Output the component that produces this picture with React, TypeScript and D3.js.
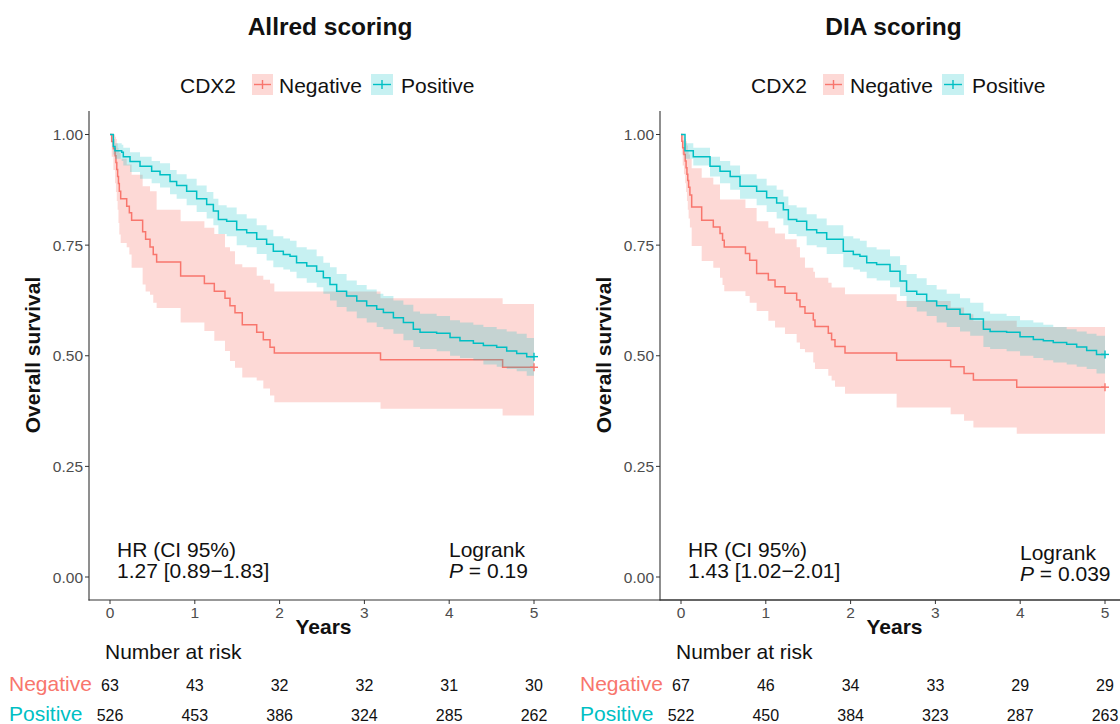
import React from "react";
import * as d3 from "d3";

const FONT = "'Liberation Sans', Arial, Helvetica, sans-serif";
const RED = "#F8766D";
const TEAL = "#00BFC4";

const years = [0, 1, 2, 3, 4, 5];
const survTicks = [0, 0.25, 0.5, 0.75, 1];
const groupNames = ["Negative", "Positive"];

// Allred scoring - CDX2 negative
const allredNegTime = [0, 0.02, 0.04, 0.06, 0.07, 0.08, 0.09, 0.10, 0.11, 0.126, 0.197, 0.228, 0.255, 0.385, 0.42, 0.472, 0.51, 0.55, 0.833, 1.113, 1.23, 1.356, 1.415, 1.474, 1.56, 1.73, 1.808, 1.887, 1.938, 3.19, 4.63];
const allredNegSurv = [1, 0.984, 0.968, 0.952, 0.937, 0.921, 0.905, 0.889, 0.872, 0.855, 0.838, 0.823, 0.806, 0.780, 0.763, 0.746, 0.729, 0.712, 0.680, 0.663, 0.646, 0.630, 0.613, 0.597, 0.570, 0.553, 0.536, 0.519, 0.506, 0.491, 0.474];
const allredNegLower = [1, 0.95, 0.92, 0.89, 0.87, 0.85, 0.83, 0.80, 0.774, 0.755, 0.745, 0.729, 0.699, 0.661, 0.645, 0.638, 0.620, 0.608, 0.575, 0.556, 0.534, 0.511, 0.488, 0.473, 0.451, 0.444, 0.426, 0.410, 0.395, 0.380, 0.365];
const allredNegUpper = [1, 1, 1, 0.995, 0.99, 0.98, 0.97, 0.965, 0.958, 0.945, 0.932, 0.932, 0.909, 0.883, 0.883, 0.872, 0.872, 0.830, 0.804, 0.789, 0.775, 0.745, 0.736, 0.707, 0.700, 0.681, 0.672, 0.663, 0.645, 0.630, 0.617];

// Allred scoring - CDX2 positive
const allredPosTime = [0, 0.039, 0.059, 0.138, 0.157, 0.236, 0.354, 0.491, 0.59, 0.708, 0.786, 0.904, 1.022, 1.14, 1.219, 1.278, 1.376, 1.494, 1.612, 1.73, 1.847, 1.926, 2.044, 2.123, 2.2, 2.32, 2.437, 2.516, 2.594, 2.673, 2.79, 2.91, 3.027, 3.145, 3.224, 3.342, 3.46, 3.577, 3.656, 3.852, 4.01, 4.127, 4.285, 4.403, 4.56, 4.678, 4.796, 4.914];
const allredPosSurv = [1, 0.973, 0.963, 0.960, 0.950, 0.939, 0.928, 0.917, 0.909, 0.894, 0.885, 0.872, 0.855, 0.842, 0.827, 0.808, 0.804, 0.785, 0.778, 0.763, 0.752, 0.736, 0.729, 0.725, 0.710, 0.703, 0.691, 0.676, 0.661, 0.646, 0.635, 0.624, 0.613, 0.605, 0.598, 0.586, 0.575, 0.560, 0.553, 0.551, 0.541, 0.534, 0.528, 0.523, 0.519, 0.511, 0.505, 0.498];
const allredPosLower = [1, 0.955, 0.945, 0.94, 0.93, 0.915, 0.90, 0.89, 0.88, 0.865, 0.855, 0.84, 0.825, 0.81, 0.795, 0.775, 0.77, 0.75, 0.745, 0.73, 0.715, 0.70, 0.695, 0.69, 0.675, 0.665, 0.655, 0.64, 0.625, 0.61, 0.60, 0.585, 0.575, 0.565, 0.56, 0.55, 0.535, 0.52, 0.515, 0.51, 0.50, 0.495, 0.49, 0.48, 0.475, 0.47, 0.465, 0.455];
const allredPosUpper = [1, 0.99, 0.98, 0.977, 0.97, 0.96, 0.95, 0.94, 0.935, 0.92, 0.91, 0.90, 0.885, 0.87, 0.855, 0.84, 0.835, 0.82, 0.81, 0.795, 0.785, 0.77, 0.765, 0.76, 0.745, 0.74, 0.725, 0.71, 0.70, 0.685, 0.67, 0.66, 0.65, 0.64, 0.635, 0.625, 0.615, 0.60, 0.595, 0.59, 0.58, 0.575, 0.57, 0.565, 0.56, 0.555, 0.55, 0.54];

// DIA scoring - CDX2 negative
const diaNegTime = [0, 0.01, 0.02, 0.035, 0.05, 0.06, 0.07, 0.08, 0.09, 0.105, 0.126, 0.244, 0.381, 0.46, 0.49, 0.51, 0.76, 0.81, 0.892, 1.03, 1.109, 1.226, 1.364, 1.403, 1.462, 1.56, 1.58, 1.737, 1.776, 1.816, 1.934, 2.543, 3.18, 3.338, 3.448, 3.959];
const diaNegSurv = [1, 0.985, 0.970, 0.955, 0.940, 0.925, 0.910, 0.896, 0.881, 0.863, 0.836, 0.806, 0.791, 0.776, 0.761, 0.746, 0.731, 0.716, 0.686, 0.671, 0.656, 0.641, 0.626, 0.611, 0.596, 0.581, 0.566, 0.551, 0.536, 0.521, 0.506, 0.490, 0.475, 0.460, 0.445, 0.429];
const diaNegLower = [1, 0.955, 0.93, 0.91, 0.89, 0.87, 0.85, 0.83, 0.81, 0.79, 0.748, 0.714, 0.699, 0.676, 0.660, 0.646, 0.635, 0.620, 0.601, 0.579, 0.564, 0.549, 0.530, 0.515, 0.508, 0.485, 0.470, 0.455, 0.444, 0.430, 0.414, 0.383, 0.368, 0.353, 0.338, 0.324];
const diaNegUpper = [1, 1, 1, 0.995, 0.99, 0.985, 0.975, 0.965, 0.955, 0.945, 0.924, 0.902, 0.887, 0.853, 0.853, 0.853, 0.834, 0.834, 0.804, 0.789, 0.776, 0.763, 0.745, 0.722, 0.699, 0.690, 0.676, 0.665, 0.654, 0.654, 0.639, 0.624, 0.609, 0.594, 0.579, 0.565];

// DIA scoring - CDX2 positive
const diaPosTime = [0, 0.047, 0.145, 0.342, 0.46, 0.58, 0.696, 0.892, 1.01, 1.128, 1.207, 1.266, 1.364, 1.482, 1.6, 1.718, 1.914, 2.032, 2.11, 2.19, 2.307, 2.465, 2.583, 2.66, 2.78, 2.897, 3.015, 3.133, 3.29, 3.41, 3.566, 3.645, 3.84, 3.998, 4.155, 4.273, 4.39, 4.548, 4.666, 4.784, 4.9];
const diaPosSurv = [1, 0.963, 0.950, 0.928, 0.917, 0.905, 0.883, 0.872, 0.857, 0.845, 0.830, 0.808, 0.804, 0.785, 0.778, 0.763, 0.736, 0.729, 0.725, 0.710, 0.706, 0.691, 0.669, 0.646, 0.639, 0.624, 0.613, 0.605, 0.594, 0.583, 0.560, 0.555, 0.553, 0.543, 0.537, 0.534, 0.530, 0.526, 0.520, 0.512, 0.503];
const diaPosLower = [1, 0.945, 0.93, 0.905, 0.89, 0.875, 0.855, 0.84, 0.825, 0.81, 0.795, 0.775, 0.77, 0.75, 0.745, 0.73, 0.70, 0.695, 0.69, 0.675, 0.67, 0.655, 0.635, 0.61, 0.60, 0.59, 0.575, 0.565, 0.555, 0.545, 0.52, 0.515, 0.51, 0.50, 0.495, 0.49, 0.485, 0.48, 0.475, 0.47, 0.46];
const diaPosUpper = [1, 0.98, 0.97, 0.95, 0.94, 0.93, 0.91, 0.90, 0.885, 0.875, 0.86, 0.84, 0.835, 0.82, 0.81, 0.795, 0.77, 0.765, 0.76, 0.745, 0.74, 0.725, 0.705, 0.685, 0.675, 0.66, 0.65, 0.64, 0.63, 0.62, 0.60, 0.595, 0.59, 0.58, 0.575, 0.57, 0.565, 0.56, 0.555, 0.55, 0.545];

// numbers at risk at years 0..5
const allredRiskNeg = [63, 43, 32, 32, 31, 30];
const allredRiskPos = [526, 453, 386, 324, 285, 262];
const diaRiskNeg = [67, 46, 34, 33, 29, 29];
const diaRiskPos = [522, 450, 384, 323, 287, 263];

type Pt = { t: number; s: number; lo: number; hi: number };

function buildCurve(time: number[], surv: number[], lower: number[], upper: number[], tEnd: number): Pt[] {
  const pts = time.map((t, i) => ({ t, s: surv[i], lo: lower[i], hi: upper[i] }));
  const last = pts[pts.length - 1];
  pts.push({ t: tEnd, s: last.s, lo: last.lo, hi: last.hi });
  return pts;
}

const x = d3.scaleLinear().domain([0, 5]).range([110, 534]);
const y = d3.scaleLinear().domain([0, 1]).range([577, 134.5]);

const area = d3.area<Pt>().x(d => x(d.t)).y0(d => y(d.lo)).y1(d => y(d.hi)).curve(d3.curveStepAfter);
const line = d3.line<Pt>().x(d => x(d.t)).y(d => y(d.s)).curve(d3.curveStepAfter);

function Panel(props: {
  dx: number; title: string; titleX: number;
  neg: Pt[]; pos: Pt[]; riskNeg: number[]; riskPos: number[];
  hr: string; pval: string; rankDy: number;
}) {
  const { dx, title, titleX, neg, pos, riskNeg, riskPos, hr, pval, rankDy } = props;
  const negEnd = neg[neg.length - 1];
  const posEnd = pos[pos.length - 1];
  const cross = (p: Pt, color: string) => (
    <g stroke={color} strokeWidth={1.4}>
      <line x1={x(p.t) - 4} x2={x(p.t) + 4} y1={y(p.s)} y2={y(p.s)} />
      <line x1={x(p.t)} x2={x(p.t)} y1={y(p.s) - 4} y2={y(p.s) + 4} />
    </g>
  );
  return (
    <g transform={`translate(${dx},0)`} fontFamily={FONT}>
      <text x={titleX} y={35} textAnchor="middle" fontSize={24.5} fontWeight="bold" fill="#111">{title}</text>

      {/* legend */}
      <text x={180} y={93} fontSize={21} fill="#111">CDX2</text>
      <rect x={252} y={74} width={21} height={21} fill={RED} fillOpacity={0.28} />
      <line x1={254} x2={271} y1={84.5} y2={84.5} stroke={RED} strokeWidth={1.4} />
      <line x1={262.5} x2={262.5} y1={80} y2={89} stroke={RED} strokeWidth={1.4} />
      <text x={279} y={93} fontSize={21} fill="#111">{groupNames[0]}</text>
      <rect x={371} y={74} width={22} height={21} fill={TEAL} fillOpacity={0.22} />
      <line x1={373} x2={391} y1={84.5} y2={84.5} stroke={TEAL} strokeWidth={1.4} />
      <line x1={382} x2={382} y1={80} y2={89} stroke={TEAL} strokeWidth={1.4} />
      <text x={401} y={93} fontSize={21} fill="#111">{groupNames[1]}</text>

      {/* curves */}
      <path d={area(neg) || ""} fill={RED} fillOpacity={0.28} />
      <path d={line(neg) || ""} fill="none" stroke={RED} strokeWidth={1.5} />
      <path d={area(pos) || ""} fill={TEAL} fillOpacity={0.22} />
      <path d={line(pos) || ""} fill="none" stroke={TEAL} strokeWidth={1.5} />
      {cross(negEnd, RED)}
      {cross(posEnd, TEAL)}

      {/* axes */}
      <line x1={89} x2={89} y1={111} y2={600.5} stroke="#333" strokeWidth={1.1} />
      <line x1={88.5} x2={1200} y1={600} y2={600} stroke="#333" strokeWidth={1.1} />
      {survTicks.map(v => (
        <g key={v}>
          <line x1={85} x2={89} y1={y(v)} y2={y(v)} stroke="#333" strokeWidth={1} />
          <text x={83} y={y(v) + 5.5} textAnchor="end" fontSize={15.5} fill="#4D4D4D">{v.toFixed(2)}</text>
        </g>
      ))}
      {years.map(v => (
        <g key={v}>
          <line x1={x(v)} x2={x(v)} y1={600} y2={604} stroke="#333" strokeWidth={1} />
          <text x={x(v)} y={618} textAnchor="middle" fontSize={15.5} fill="#4D4D4D">{v}</text>
        </g>
      ))}
      <text transform="translate(39.5,355) rotate(-90)" textAnchor="middle" fontSize={21} fontWeight="bold" fill="#111">Overall survival</text>
      <text x={323.5} y={634} textAnchor="middle" fontSize={21} fontWeight="bold" fill="#111">Years</text>

      {/* annotations */}
      <text x={117} y={557} fontSize={21} fill="#111">HR (CI 95%)</text>
      <text x={117} y={578} fontSize={21} fill="#111">{hr}</text>
      <text x={449} y={557 + rankDy} fontSize={21} fill="#111">Logrank</text>
      <text x={449} y={578 + rankDy} fontSize={21} fill="#111">
        <tspan fontStyle="italic">P</tspan> = {pval}
      </text>

      {/* risk table */}
      <text x={105} y={659} fontSize={21} fill="#111">Number at risk</text>
      <text x={9} y={691} fontSize={21} fill={RED}>{groupNames[0]}</text>
      <text x={9} y={721} fontSize={21} fill={TEAL}>{groupNames[1]}</text>
      {years.map((v, i) => (
        <g key={v}>
          <text x={x(v)} y={691} textAnchor="middle" fontSize={16} fill="#111">{riskNeg[i]}</text>
          <text x={x(v)} y={721} textAnchor="middle" fontSize={16} fill="#111">{riskPos[i]}</text>
        </g>
      ))}
    </g>
  );
}

export default function App() {
  const allredNeg = buildCurve(allredNegTime, allredNegSurv, allredNegLower, allredNegUpper, 5);
  const allredPos = buildCurve(allredPosTime, allredPosSurv, allredPosLower, allredPosUpper, 5);
  const diaNeg = buildCurve(diaNegTime, diaNegSurv, diaNegLower, diaNegUpper, 5);
  const diaPos = buildCurve(diaPosTime, diaPosSurv, diaPosLower, diaPosUpper, 5);
  return (
    <svg width={1120} height={724} style={{ position: "absolute", left: 0, top: 0, background: "#fff" }}>
      <rect width={1120} height={724} fill="#fff" />
      <Panel dx={0} title="Allred scoring" titleX={330} neg={allredNeg} pos={allredPos}
        riskNeg={allredRiskNeg} riskPos={allredRiskPos} hr="1.27 [0.89−1.83]" pval="0.19" rankDy={0} />
      <Panel dx={571} title="DIA scoring" titleX={322.5} neg={diaNeg} pos={diaPos}
        riskNeg={diaRiskNeg} riskPos={diaRiskPos} hr="1.43 [1.02−2.01]" pval="0.039" rankDy={3} />
    </svg>
  );
}
